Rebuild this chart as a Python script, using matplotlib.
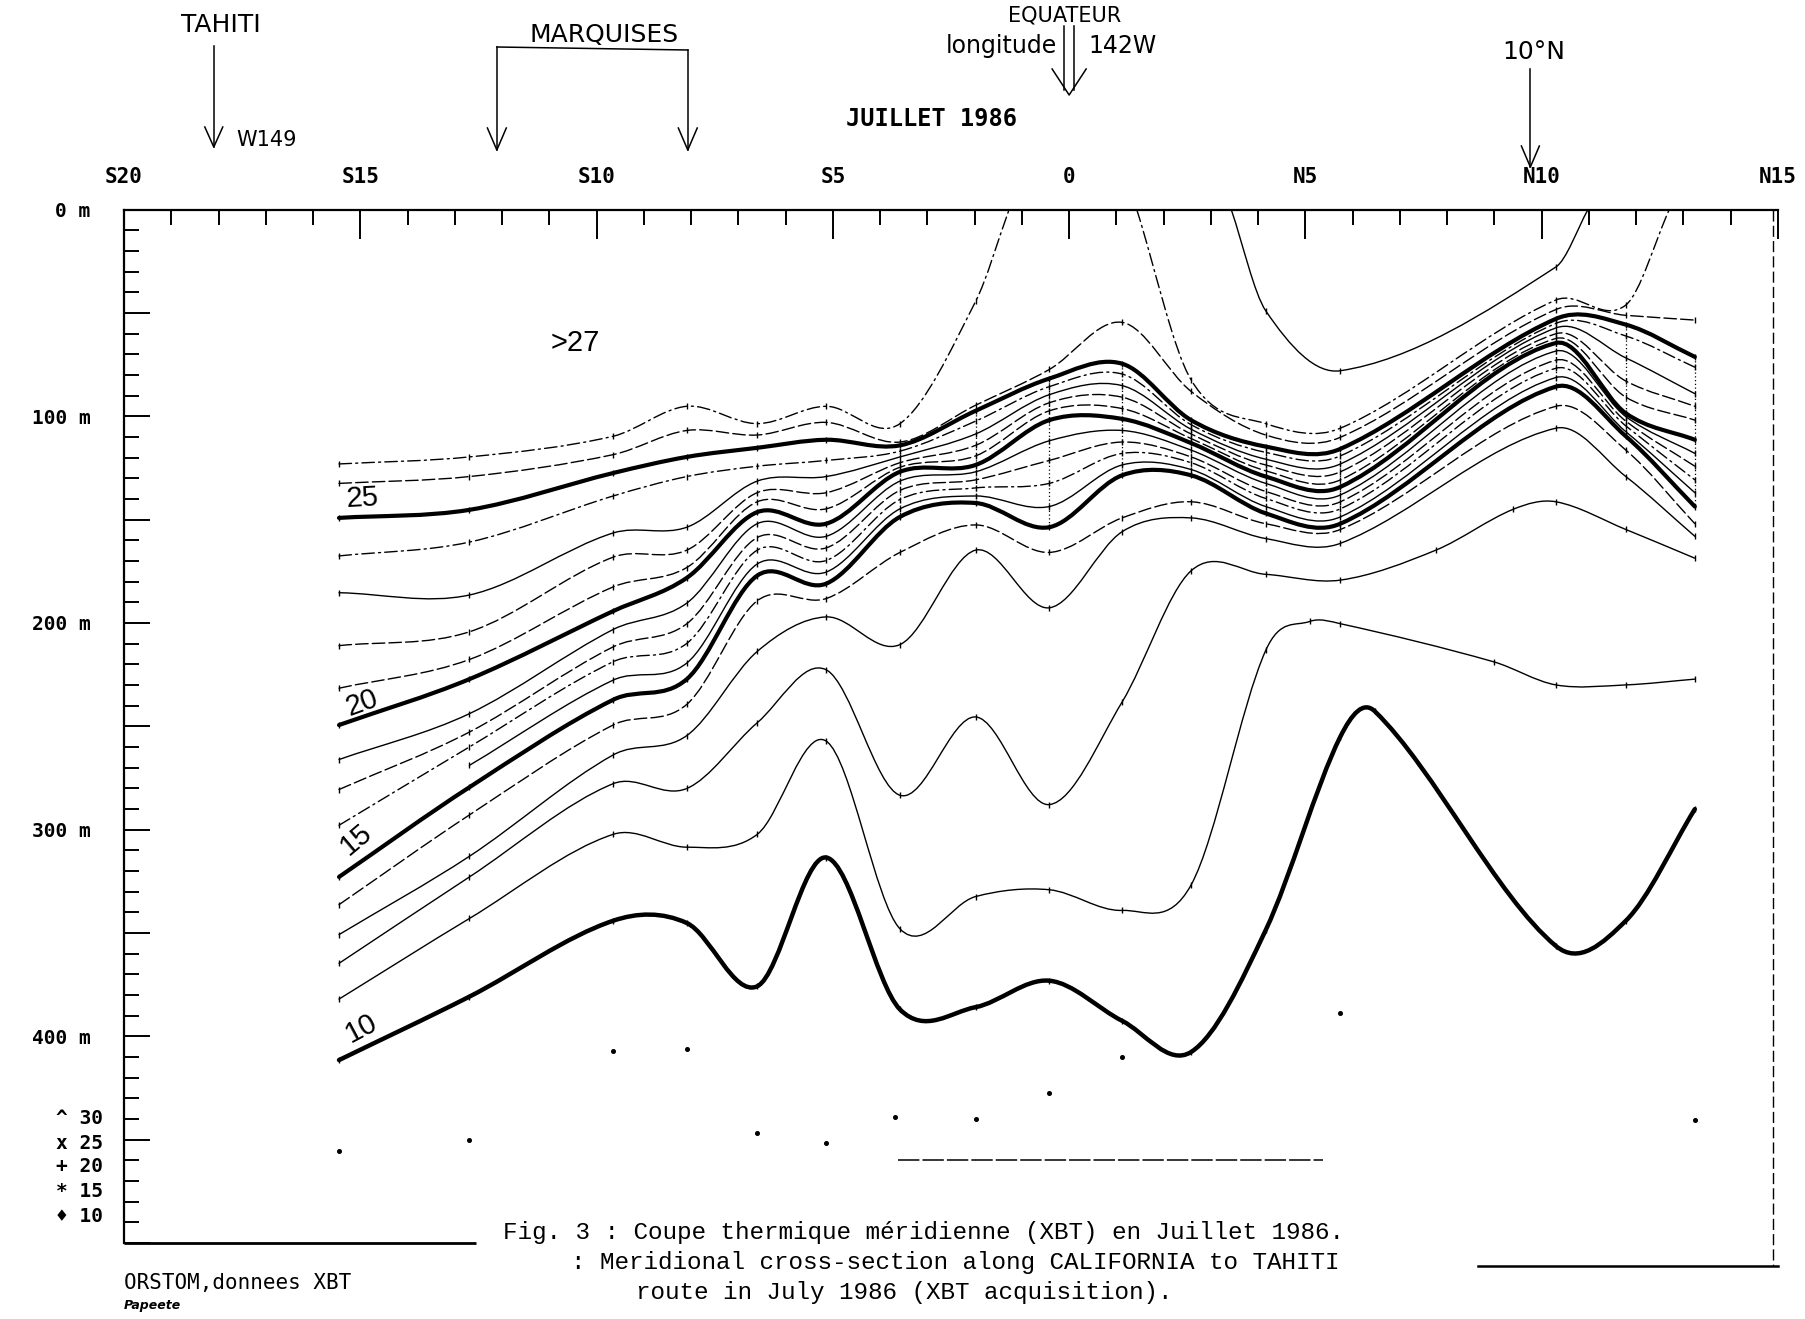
import numpy as np
import matplotlib
matplotlib.use("Agg")
import matplotlib.pyplot as plt
from matplotlib.path import Path
from matplotlib.patches import PathPatch
from matplotlib.lines import Line2D
from matplotlib.transforms import blended_transform_factory
from matplotlib import font_manager as fm

W, H = 1805, 1319

# ---------------- data (latitude in degrees, S negative; depth in m) ----------------
stations = [-15.45, -12.69, -9.65, -8.09, -6.60, -5.14, -3.58, -1.98, -0.42,
            1.12, 2.58, 4.16, 5.74, 10.30, 11.78, 13.24]

t28_lat = [3.43, 4.16, 5.74, 10.30, 10.98]
t28_depth = [0, 49.0, 78.0, 27.8, 0]

t27w_lat = [-15.45, -12.69, -9.65, -8.09, -6.60, -5.14, -3.58, -1.98, -1.27]
t27w_depth = [123.1, 119.7, 109.7, 95.2, 103.6, 95.2, 103.6, 44.5, 0]

t27e_lat = [1.43, 2.58, 4.16, 5.74, 10.30, 11.78, 12.70]
t27e_depth = [0, 82.4, 103.6, 105.8, 43.8, 46.2, 0]

t26 = [132.5, 129.2, 118.6, 106.9, 109.1, 103.0, 112.5, 94.7, 77.4, 54.6, 88.0, 109.1, 110.2, 48.4, 51.2, 53.5]
t25 = [149.2, 145.3, 127.5, 119.7, 115.3, 111.4, 114.1, 97.4, 81.8, 74.6, 101.9, 114.7, 115.8, 52.9, 55.7, 71.3]
t24 = [167.6, 160.9, 138.6, 129.2, 124.2, 121.4, 116.9, 102.4, 85.7, 79.6, 104.1, 117.5, 119.2, 55.1, 61.2, 76.3]
t23 = [185.4, 186.5, 156.5, 153.7, 131.4, 129.2, 119.7, 108.6, 89.6, 85.2, 106.3, 120.8, 123.1, 57.3, 71.8, 89.1]
t22 = [211.0, 204.3, 168.2, 164.8, 137.0, 137.0, 122.5, 114.1, 93.5, 90.8, 108.6, 123.6, 126.9, 60.1, 83.0, 95.2]
t21 = [231.6, 217.7, 182.6, 173.2, 141.4, 144.8, 124.7, 119.2, 97.4, 96.3, 110.8, 126.4, 130.8, 62.4, 90.8, 101.9]
t20 = [249.4, 227.2, 194.3, 178.2, 146.4, 152.0, 126.9, 123.6, 101.9, 101.3, 113.0, 129.2, 134.2, 64.6, 98.6, 111.4]
t19 = [266.1, 243.9, 203.2, 190.4, 152.0, 158.1, 131.4, 126.9, 111.9, 106.9, 116.4, 132.5, 138.1, 68.5, 100.2, 118.0]
t18 = [280.6, 252.8, 211.6, 200.4, 158.7, 163.7, 135.9, 130.8, 121.4, 112.5, 119.7, 136.4, 141.4, 72.9, 102.4, 124.2]
t17 = [297.9, 260.0, 218.8, 209.9, 164.8, 169.8, 140.3, 134.7, 132.5, 118.0, 122.5, 139.8, 144.8, 76.8, 104.7, 130.8]
t16 = [None, 268.9, 227.7, 219.4, 171.5, 175.4, 144.8, 138.6, 143.7, 123.6, 125.8, 143.7, 148.7, 81.3, 107.5, 137.0]
t15 = [322.9, 279.5, 237.2, 227.2, 177.1, 181.0, 148.7, 142.0, 153.7, 128.6, 128.6, 147.0, 152.0, 85.7, 109.7, 143.7]
t14 = [336.3, 292.9, 249.4, 239.4, 189.3, 188.2, 165.9, 152.6, 165.9, 149.2, 141.4, 152.0, 154.8, 95.2, 116.4, 152.0]
t13 = [350.8, 312.9, 263.9, 254.5, 213.8, 197.1, 210.5, 164.8, 192.7, 155.9, 149.2, 159.2, 161.5, 105.8, 129.2, 158.1]

t12_lat = stations[:13] + [7.76, 9.40] + stations[13:]
t12_depth = [364.7, 322.9, 277.8, 280.1, 248.3, 222.7, 283.4, 245.5, 287.9, 238.3, 174.8,
             176.5, 179.3, 164.8, 145.0, 141.4, 154.8, 168.7]
t11_lat = stations[:12] + [5.09, 5.74, 8.98] + stations[13:]
t11_depth = [382.0, 343.0, 302.3, 308.5, 302.3, 257.2, 348.0, 332.4, 329.1, 339.1, 326.8,
             213.3, 199.3, 200.4, 218.8, 230.0, 230.0, 227.2]
t10_lat = stations[:13] + [6.47] + stations[13:]
t10_depth = [411.5, 380.8, 344.1, 345.2, 375.8, 313.5, 387.0, 385.9, 373.1, 392.5, 407.6,
             348.6, 255.0, 242.8, 356.3, 344.1, 290.1]

deep_lat = [-15.45, -12.69, -9.65, -8.09, -6.60, -5.14, -3.68, -1.98, -0.42, 1.12, 5.74, 13.24]
deep_depth = [455.5, 450.0, 407.0, 406.0, 447.0, 451.5, 439.0, 440.0, 427.6, 409.8, 388.6, 440.5]

trace_lat = [-3.63, 5.38]
trace_depth = 460

lat_ticks = [-20, -15, -10, -5, 0, 5, 10, 15]
lat_labels = ["S20", "S15", "S10", "S5", "0", "N5", "N10", "N15"]
depth_ticks = list(range(0, 501, 50))
depth_labels = ["0 m", "", "100 m", "", "200 m", "", "300 m", "", "400 m", "", ""]

legend_syms = ["^", "x", "+", "*", "\u2666"]
legend_vals = ["30", "25", "20", "15", "10"]
legend_depth = [440, 452, 463, 475, 487]

TAHITI_LAT = -18.10
MARQ_LATS = [-12.11, -8.07]
EQ_LAT = 0.0
N10_LAT = 9.76

# ---------------- fonts ----------------
avail = {f.name for f in fm.fontManager.ttflist}
NARROW = "Liberation Sans Narrow" if "Liberation Sans Narrow" in avail else "DejaVu Sans"
MONO = "DejaVu Sans Mono"
COURIER = "Liberation Mono" if "Liberation Mono" in avail else "DejaVu Sans Mono"
HELV = "Liberation Sans" if "Liberation Sans" in avail else "DejaVu Sans"

fig = plt.figure(figsize=(W / 100, H / 100), dpi=100)
fig.patch.set_facecolor("white")
ax = fig.add_axes([124 / W, 1 - 1243 / H, (1778 - 124) / W, (1243 - 209.5) / H])
ax.set_xlim(-20, 15)
ax.set_ylim(500, 0)
for s in ["bottom", "right"]:
    ax.spines[s].set_visible(False)
for s in ["top", "left"]:
    ax.spines[s].set_linewidth(1.6)

ax.xaxis.tick_top()
ax.set_xticks(lat_ticks)
ax.set_xticklabels(lat_labels)
ax.set_xticks(np.arange(-20, 16, 1), minor=True)
ax.tick_params(axis="x", which="major", direction="in", length=21, width=1.4, pad=16, labelsize=15)
ax.tick_params(axis="x", which="minor", direction="in", length=11, width=1.4)
ax.set_yticks(depth_ticks)
ax.set_yticklabels(depth_labels)
ax.set_yticks(np.arange(0, 501, 10), minor=True)
ax.tick_params(axis="y", which="major", direction="in", length=19, width=1.4, pad=24, labelsize=14)
ax.tick_params(axis="y", which="minor", direction="in", length=11, width=1.4)
for lab in ax.get_xticklabels() + ax.get_yticklabels():
    lab.set_fontfamily(MONO)
    lab.set_fontweight("bold")


def hermite_path(x, y):
    x = np.asarray(x, float)
    y = np.asarray(y, float)
    n = len(x)
    m = np.empty(n)
    m[0] = (y[1] - y[0]) / (x[1] - x[0])
    m[-1] = (y[-1] - y[-2]) / (x[-1] - x[-2])
    for i in range(1, n - 1):
        m[i] = (y[i + 1] - y[i - 1]) / (x[i + 1] - x[i - 1])
    verts = [(x[0], y[0])]
    codes = [Path.MOVETO]
    for i in range(n - 1):
        h = x[i + 1] - x[i]
        verts += [(x[i] + h / 3, y[i] + m[i] * h / 3),
                  (x[i + 1] - h / 3, y[i + 1] - m[i + 1] * h / 3),
                  (x[i + 1], y[i + 1])]
        codes += [Path.CURVE4] * 3
    return Path(verts, codes)


def draw_iso(lats, depths, lw=1.0, ls="-"):
    pairs = [(a, b) for a, b in zip(lats, depths) if b is not None]
    xs = [p[0] for p in pairs]
    ys = [p[1] for p in pairs]
    ax.add_patch(PathPatch(hermite_path(xs, ys), fill=False, lw=lw, ls=ls,
                           edgecolor="black", capstyle="round", joinstyle="round"))
    mx = [a for a, b in pairs if b > 0]
    my = [b for a, b in pairs if b > 0]
    ax.plot(mx, my, ls="none", marker="|", ms=4, mew=1.0, color="black")


BOLD = 3.0
THIN = 1.0
DASH = (0, (9, 3))
DASHDOT = (0, (9, 3, 1.5, 3))

draw_iso(t28_lat, t28_depth, THIN, "-")
draw_iso(t27w_lat, t27w_depth, THIN, DASHDOT)
draw_iso(t27e_lat, t27e_depth, THIN, DASHDOT)
draw_iso(stations, t26, THIN, DASH)
draw_iso(stations, t25, BOLD, "-")
draw_iso(stations, t24, THIN, DASHDOT)
draw_iso(stations, t23, THIN, "-")
draw_iso(stations, t22, THIN, DASH)
draw_iso(stations, t21, THIN, DASH)
draw_iso(stations, t20, BOLD, "-")
draw_iso(stations, t19, THIN, "-")
draw_iso(stations, t18, THIN, DASH)
draw_iso(stations, t17, THIN, DASHDOT)
draw_iso(stations, t16, THIN, "-")
draw_iso(stations, t15, BOLD, "-")
draw_iso(stations, t14, THIN, DASH)
draw_iso(stations, t13, THIN, "-")
draw_iso(t12_lat, t12_depth, THIN, "-")
draw_iso(t11_lat, t11_depth, THIN, "-")
draw_iso(t10_lat, t10_depth, 3.2, "-")

# dotted station verticals in the crowded thermocline
for i in range(6, len(stations)):
    ax.plot([stations[i], stations[i]], [t25[i], t15[i]], ls=(0, (1, 2)), lw=0.9, color="black")

ax.plot(deep_lat, deep_depth, ls="none", marker="o", ms=2.6, color="black")
ax.plot(trace_lat, [trace_depth, trace_depth], lw=1.1, color="black", ls=(0, (14, 2)))

# frame pieces
ax.plot([-20, -12.56], [500, 500], lw=2.0, color="black", clip_on=False, solid_capstyle="butt")
ax.plot([8.66, 15.0], [511, 511], lw=1.8, color="black", clip_on=False)
ax.plot([14.9, 14.9], [0, 511], lw=1.0, color="black", ls=(0, (8, 3)), clip_on=False)

# isotherm labels
ax.text(-14.95, 139.5, "25", fontsize=21, family=HELV, ha="center", va="center", rotation=3)
ax.text(-14.97, 238.9, "20", fontsize=21, family=HELV, ha="center", va="center", rotation=20)
ax.text(-15.09, 305.0, "15", fontsize=21, family=HELV, ha="center", va="center", rotation=40)
ax.text(-14.97, 396.0, "10", fontsize=21, family=HELV, ha="center", va="center", rotation=28)
ax.text(-10.45, 64.6, ">27", fontsize=21, family=HELV, ha="center", va="center")

# legend of symbols
tr_leg = blended_transform_factory(fig.transFigure, ax.transData)
for s, v, d in zip(legend_syms, legend_vals, legend_depth):
    ax.text(103 / W, d, f"{s} {v}", transform=tr_leg, ha="right", va="center",
            fontsize=14, family=[MONO, "DejaVu Sans"], fontweight="bold", clip_on=False)


# ---------------- top annotations ----------------
def fx(px):
    return px / W


def fy(py):
    return 1 - py / H


tr = blended_transform_factory(ax.transData, fig.transFigure)


def add_line(xs, ys_px, lw=1.1):
    fig.add_artist(Line2D(xs, [fy(v) for v in ys_px], transform=tr, color="black", lw=lw))


def head(lat, ybot, half=0.19, hgt=20, lw=1.1):
    add_line([lat - half, lat, lat + half], [ybot - hgt, ybot, ybot - hgt], lw)


add_line([TAHITI_LAT, TAHITI_LAT], [46, 147])
head(TAHITI_LAT, 147)
add_line([MARQ_LATS[0], MARQ_LATS[1]], [47, 50])
add_line([MARQ_LATS[0], MARQ_LATS[0]], [47, 150])
add_line([MARQ_LATS[1], MARQ_LATS[1]], [50, 150])
head(MARQ_LATS[0], 150, 0.2, 22)
head(MARQ_LATS[1], 150, 0.2, 22)
add_line([EQ_LAT - 0.1, EQ_LAT - 0.1], [26, 90])
add_line([EQ_LAT + 0.1, EQ_LAT + 0.1], [26, 90])
head(EQ_LAT, 95, 0.36, 26)
add_line([N10_LAT, N10_LAT], [69, 167])
head(N10_LAT, 167, 0.19, 21)

fig.text(fx(221), fy(25), "TAHITI", ha="center", va="center", fontsize=18, family=NARROW)
fig.text(fx(236), fy(140), "W149", ha="left", va="center", fontsize=15, family=NARROW)
fig.text(fx(604), fy(35), "MARQUISES", ha="center", va="center", fontsize=18, family=NARROW)
fig.text(fx(1065), fy(21), "EQUATEUR", ha="center", va="baseline", fontsize=15, family=NARROW)
fig.text(fx(1057), fy(46), "longitude", ha="right", va="center", fontsize=17, family=NARROW)
fig.text(fx(1088), fy(46), "142W", ha="left", va="center", fontsize=17, family=NARROW)
fig.text(fx(1534), fy(52), "10°N", ha="center", va="center", fontsize=18, family=NARROW)
fig.text(fx(846), fy(119), "JUILLET 1986", ha="left", va="center", fontsize=17,
         family=MONO, fontweight="bold")

# ---------------- bottom texts ----------------
fig.text(fx(124), fy(1283), "ORSTOM,donnees XBT", ha="left", va="center", fontsize=15,
         family=MONO)
fig.text(fx(124), fy(1306), "Papeete", ha="left", va="center", fontsize=9,
         style="italic", fontweight="bold", family="DejaVu Sans")
fig.text(fx(503), fy(1232), "Fig. 3 : Coupe thermique méridienne (XBT) en Juillet 1986.",
         ha="left", va="center", fontsize=17.5, family=COURIER)
fig.text(fx(571), fy(1263), ": Meridional cross-section along CALIFORNIA to TAHITI",
         ha="left", va="center", fontsize=17.5, family=COURIER)
fig.text(fx(636), fy(1293), "route in July 1986 (XBT acquisition).",
         ha="left", va="center", fontsize=17.5, family=COURIER)

fig.savefig("out.png", dpi=100, facecolor="white")
